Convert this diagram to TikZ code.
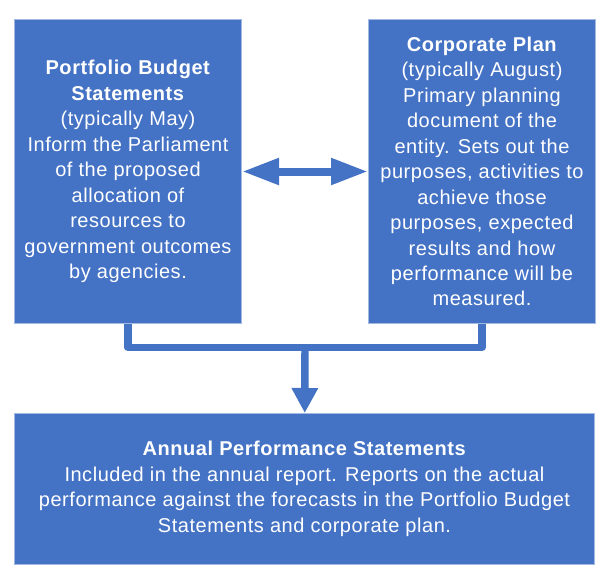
\documentclass[tikz,border=0pt]{standalone}
\usepackage{fontspec}
\setmainfont{Liberation Sans}[LetterSpace=2.7]
\usetikzlibrary{arrows.meta,positioning}
\definecolor{boxblue}{HTML}{4472C4}
\definecolor{edgeblue}{HTML}{A4B9E2}

\begin{document}
\begin{tikzpicture}[
  node distance=94.5pt,
  doc/.style={draw=edgeblue,line width=0.75pt,fill=boxblue,text=white,align=center,minimum width=170.25pt,minimum height=228pt,inner sep=2pt,font=\fontsize{15pt}{19.1pt}\selectfont},
  link/.style={line width=5.6pt,draw=boxblue,line join=round},
  flow/.style={link,-{Triangle[length=18.75pt,width=18.75pt]}},
  both/.style={line width=6pt,draw=boxblue,fill=boxblue,{Triangle[length=27.75pt,width=18.75pt]}-{Triangle[length=27.75pt,width=18.75pt]}}
]
\useasboundingbox (0,0) rectangle (457.5pt,-437.25pt);
\node[doc,anchor=north west] (pbs) at (10.5pt,-14.25pt) {\textbf{Portfolio Budget}\\\textbf{Statements}\\(typically May)\\Inform the Parliament\\of the proposed\\allocation of\\resources to\\government outcomes\\by agencies.};
\node[doc,right=of pbs] (cp) {\textbf{Corporate Plan}\\(typically August)\\Primary planning\\document of the\\entity. Sets out the\\purposes, activities to\\achieve those\\purposes, expected\\results and how\\performance will be\\measured.};
\node[doc,minimum width=435pt,minimum height=113.25pt,below=66.75pt of pbs.south west,anchor=north west] (aps) {\textbf{Annual Performance Statements}\\Included in the annual report. Reports on the actual\\performance against the forecasts in the Portfolio Budget\\Statements and corporate plan.};
\draw[both] (pbs) -- (cp);
\path (pbs.south) -- (cp.south) coordinate[pos=.5] (mid);
\coordinate[below=17.6pt of mid] (join);
\draw[link] (pbs.south) |- (join) -| (cp.south);
\draw[flow] (join) -- (aps);
\end{tikzpicture}
\end{document}
